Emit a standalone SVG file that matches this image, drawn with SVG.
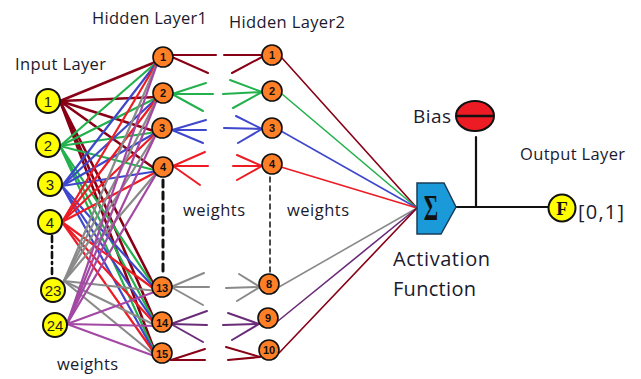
<svg xmlns="http://www.w3.org/2000/svg" width="641" height="379" viewBox="0 0 641 379">
  <style>
    .lbl { font-family: "Open Sans", "Liberation Sans", sans-serif; fill: #1a1a2e; }
    .in circle { fill: #ffff00; stroke: #111; stroke-width: 2; }
    .hid circle { fill: #ff7f27; stroke: #111; stroke-width: 1.6; }
    .in text { font-family: "Liberation Sans", sans-serif; font-size: 15px; fill: #222; text-anchor: middle; }
    .hid text { font-family: "Liberation Sans", sans-serif; font-size: 11px; font-weight: bold; fill: #111; text-anchor: middle; }
    .c line { fill: none; stroke-linecap: round; }
    .dred { stroke: #880015; }
    .grn { stroke: #22b14c; }
    .blu { stroke: #3f48cc; }
    .red { stroke: #ed1c24; }
    .gry { stroke: #8a8a8a; }
    .pur { stroke: #a349a4; }
    .dpur { stroke: #6a2c79; }
    .w2 line { stroke-width: 2; }
    .w15 line { stroke-width: 1.6; }
  </style>

  <!-- connectors -->
  <g id="connectors" class="c">
    <!-- input layer to hidden layer 1 -->
    <g class="dred" stroke-width="2.6">
      <line x1="60" y1="101" x2="158" y2="61"/>
      <line x1="60" y1="101" x2="158" y2="97"/>
      <line x1="60" y1="101" x2="157" y2="132"/>
      <line x1="60" y1="101" x2="158" y2="171"/>
      <line x1="60" y1="101" x2="157" y2="291"/>
      <line x1="60" y1="101" x2="157" y2="326"/>
      <line x1="60" y1="101" x2="157" y2="357"/>
    </g>
    <g class="grn" stroke-width="2.2">
      <line x1="60" y1="146" x2="158" y2="61"/>
      <line x1="60" y1="146" x2="158" y2="97"/>
      <line x1="60" y1="146" x2="157" y2="132"/>
      <line x1="60" y1="146" x2="158" y2="171"/>
      <line x1="60" y1="146" x2="157" y2="291"/>
      <line x1="60" y1="146" x2="157" y2="326"/>
      <line x1="60" y1="146" x2="157" y2="357"/>
    </g>
    <g class="blu" stroke-width="2.2">
      <line x1="62" y1="186" x2="158" y2="61"/>
      <line x1="62" y1="186" x2="158" y2="97"/>
      <line x1="62" y1="186" x2="157" y2="132"/>
      <line x1="62" y1="186" x2="158" y2="171"/>
      <line x1="62" y1="186" x2="157" y2="291"/>
      <line x1="62" y1="186" x2="157" y2="326"/>
      <line x1="62" y1="186" x2="157" y2="357"/>
    </g>
    <g class="red" stroke-width="2.2">
      <line x1="62" y1="222" x2="158" y2="61"/>
      <line x1="62" y1="222" x2="158" y2="97"/>
      <line x1="62" y1="222" x2="157" y2="132"/>
      <line x1="62" y1="222" x2="158" y2="171"/>
      <line x1="62" y1="222" x2="157" y2="291"/>
      <line x1="62" y1="222" x2="157" y2="326"/>
      <line x1="62" y1="222" x2="157" y2="357"/>
    </g>
    <g class="gry" stroke-width="2.2">
      <line x1="64" y1="281" x2="158" y2="61"/>
      <line x1="64" y1="281" x2="158" y2="97"/>
      <line x1="64" y1="281" x2="157" y2="132"/>
      <line x1="64" y1="281" x2="158" y2="171"/>
      <line x1="64" y1="281" x2="157" y2="291"/>
      <line x1="64" y1="281" x2="157" y2="326"/>
      <line x1="64" y1="281" x2="157" y2="357"/>
    </g>
    <g class="pur" stroke-width="2.2">
      <line x1="67" y1="324" x2="158" y2="61"/>
      <line x1="67" y1="324" x2="158" y2="97"/>
      <line x1="67" y1="324" x2="157" y2="132"/>
      <line x1="67" y1="324" x2="158" y2="171"/>
      <line x1="67" y1="324" x2="157" y2="291"/>
      <line x1="67" y1="324" x2="157" y2="326"/>
      <line x1="67" y1="324" x2="157" y2="357"/>
    </g>

    <!-- hidden layer 1 outgoing fans -->
    <g class="dred w2">
      <line x1="172" y1="55" x2="216" y2="55"/>
      <line x1="172" y1="57" x2="208" y2="73"/>
    </g>
    <g class="grn w2">
      <line x1="172" y1="94" x2="206" y2="83"/>
      <line x1="172" y1="94" x2="213" y2="94"/>
      <line x1="172" y1="94" x2="203" y2="111"/>
    </g>
    <g class="blu w2">
      <line x1="172" y1="130" x2="206" y2="120"/>
      <line x1="172" y1="130" x2="206" y2="130"/>
      <line x1="172" y1="130" x2="203" y2="143"/>
    </g>
    <g class="red w2">
      <line x1="173" y1="166" x2="205" y2="152"/>
      <line x1="173" y1="166" x2="208" y2="166"/>
      <line x1="173" y1="166" x2="200" y2="185"/>
    </g>
    <g class="gry w2">
      <line x1="171" y1="287" x2="204" y2="273"/>
      <line x1="171" y1="287" x2="209" y2="287"/>
      <line x1="171" y1="287" x2="203" y2="305"/>
    </g>
    <g class="dpur w2">
      <line x1="171" y1="324" x2="207" y2="311"/>
      <line x1="171" y1="324" x2="207" y2="325"/>
      <line x1="171" y1="324" x2="203" y2="342"/>
    </g>
    <g class="dred w2">
      <line x1="171" y1="360" x2="205" y2="349"/>
      <line x1="171" y1="360" x2="205" y2="360"/>
    </g>

    <!-- hidden layer 2 incoming fans -->
    <g class="dred w2">
      <line x1="224" y1="55" x2="262" y2="55"/>
      <line x1="232" y1="73" x2="262" y2="57"/>
    </g>
    <g class="grn w2">
      <line x1="230" y1="80" x2="262" y2="92"/>
      <line x1="223" y1="94" x2="262" y2="92"/>
      <line x1="233" y1="108" x2="262" y2="92"/>
    </g>
    <g class="blu w2">
      <line x1="236" y1="116" x2="262" y2="129"/>
      <line x1="224" y1="128" x2="262" y2="129"/>
      <line x1="238" y1="143" x2="262" y2="129"/>
    </g>
    <g class="red w2">
      <line x1="237" y1="155" x2="262" y2="166"/>
      <line x1="233" y1="166" x2="262" y2="166"/>
      <line x1="237" y1="180" x2="262" y2="166"/>
    </g>
    <g class="gry w2">
      <line x1="239" y1="274" x2="260" y2="287"/>
      <line x1="226" y1="288" x2="260" y2="287"/>
      <line x1="237" y1="301" x2="260" y2="287"/>
    </g>
    <g class="dpur w2">
      <line x1="228" y1="313" x2="259" y2="324"/>
      <line x1="223" y1="325" x2="259" y2="324"/>
      <line x1="232" y1="340" x2="259" y2="324"/>
    </g>
    <g class="dred w2">
      <line x1="226" y1="347" x2="260" y2="357"/>
      <line x1="228" y1="360" x2="260" y2="357"/>
    </g>

    <!-- hidden layer 2 to summation -->
    <g class="w15">
      <line class="dred" x1="282" y1="58" x2="417" y2="208"/>
      <line class="grn" x1="282" y1="94" x2="417" y2="208"/>
      <line class="blu" x1="281" y1="131" x2="417" y2="208"/>
      <line class="red" x1="281" y1="167" x2="417" y2="208"/>
      <line class="gry" x1="279" y1="287" x2="417" y2="208"/>
      <line class="dpur" x1="278" y1="321" x2="417" y2="208"/>
      <line class="dred" x1="279" y1="353" x2="417" y2="208"/>
    </g>

    <!-- summation to output, bias branch -->
    <g stroke="#111" stroke-width="2.2">
      <line x1="456" y1="207" x2="548" y2="207"/>
      <line x1="476" y1="137" x2="476" y2="207"/>
    </g>

    <!-- elided-node markers -->
    <line x1="52" y1="236" x2="52" y2="278" stroke="#111" stroke-width="2.6" stroke-dasharray="6 4 2 4"/>
    <line x1="163" y1="180" x2="163" y2="276" stroke="#111" stroke-width="3" stroke-dasharray="7 5"/>
    <line x1="270" y1="177" x2="270" y2="273" stroke="#111" stroke-width="1.5" stroke-dasharray="5 4"/>
  </g>

  <!-- input layer -->
  <g id="in1" class="in"><circle cx="48" cy="101" r="12"/><text x="48" y="107">1</text></g>
  <g id="in2" class="in"><circle cx="48" cy="145" r="12"/><text x="48" y="151">2</text></g>
  <g id="in3" class="in"><circle cx="50" cy="184" r="12"/><text x="50" y="190">3</text></g>
  <g id="in4" class="in"><circle cx="50" cy="222" r="12"/><text x="50" y="228">4</text></g>
  <g id="in23" class="in"><circle cx="53" cy="290" r="12"/><text x="53" y="296">23</text></g>
  <g id="in24" class="in"><circle cx="55" cy="325" r="12"/><text x="55" y="331">24</text></g>

  <!-- hidden layer 1 -->
  <g id="h1_1" class="hid"><circle cx="163" cy="57" r="10"/><text x="163" y="61">1</text></g>
  <g id="h1_2" class="hid"><circle cx="163" cy="93" r="10"/><text x="163" y="97">2</text></g>
  <g id="h1_3" class="hid"><circle cx="162" cy="128" r="10"/><text x="162" y="132">3</text></g>
  <g id="h1_4" class="hid"><circle cx="163" cy="167" r="10"/><text x="163" y="171">4</text></g>
  <g id="h1_13" class="hid"><circle cx="162" cy="287" r="10"/><text x="162" y="291.5" font-size="12">13</text></g>
  <g id="h1_14" class="hid"><circle cx="162" cy="322" r="10"/><text x="162" y="326.5" font-size="12">14</text></g>
  <g id="h1_15" class="hid"><circle cx="162" cy="353" r="10"/><text x="162" y="357.5" font-size="12">15</text></g>

  <!-- hidden layer 2 -->
  <g id="h2_1" class="hid"><circle cx="272" cy="55" r="10"/><text x="272" y="59">1</text></g>
  <g id="h2_2" class="hid"><circle cx="272" cy="91" r="10"/><text x="272" y="95">2</text></g>
  <g id="h2_3" class="hid"><circle cx="272" cy="128" r="10"/><text x="272" y="132">3</text></g>
  <g id="h2_4" class="hid"><circle cx="272" cy="164" r="10"/><text x="272" y="168">4</text></g>
  <g id="h2_8" class="hid"><circle cx="269" cy="284" r="10"/><text x="269" y="288">8</text></g>
  <g id="h2_9" class="hid"><circle cx="268" cy="318" r="10"/><text x="268" y="322">9</text></g>
  <g id="h2_10" class="hid"><circle cx="269" cy="350" r="10"/><text x="269" y="354">10</text></g>

  <!-- activation (summation) -->
  <g id="sum">
    <polygon points="417,183 444,183 456,207 441,234 417,234" fill="#1a9ad9" stroke="#1b3c5a" stroke-width="1.5"/>
    <text x="0" y="0" transform="translate(431,220) scale(1,1.6)" font-family="Liberation Serif, serif" font-size="22" font-weight="bold" fill="#111" text-anchor="middle">Σ</text>
  </g>

  <!-- bias -->
  <g id="bias">
    <ellipse cx="475" cy="116" rx="19" ry="15" fill="#ed1c24" stroke="#111" stroke-width="2"/>
    <line x1="456" y1="116" x2="494" y2="116" stroke="#111" stroke-width="2.5"/>
  </g>

  <!-- output -->
  <g id="out">
    <circle cx="562" cy="208" r="13.5" fill="#ffff00" stroke="#111" stroke-width="2"/>
    <text x="562" y="215" font-family="Liberation Serif, serif" font-size="19" font-weight="bold" fill="#111" text-anchor="middle">F</text>
  </g>

  <!-- labels -->
  <g id="labels" class="lbl">
    <text x="15" y="70" font-size="16.5" textLength="91">Input Layer</text>
    <text x="92" y="24" font-size="16.5" textLength="115">Hidden Layer1</text>
    <text x="229" y="28" font-size="16.5" textLength="116">Hidden Layer2</text>
    <text x="183" y="216" font-size="16.5" textLength="62">weights</text>
    <text x="287" y="216" font-size="16.5" textLength="62">weights</text>
    <text x="57" y="370" font-size="16.5" textLength="61">weights</text>
    <text x="413" y="123" font-size="19" textLength="38">Bias</text>
    <text x="520" y="160" font-size="16.5" textLength="105">Output Layer</text>
    <text x="393" y="266" font-size="20" textLength="97">Activation</text>
    <text x="393" y="296" font-size="20" textLength="83">Function</text>
    <text x="578" y="219" font-size="20" textLength="46">[0,1]</text>
  </g>
</svg>
